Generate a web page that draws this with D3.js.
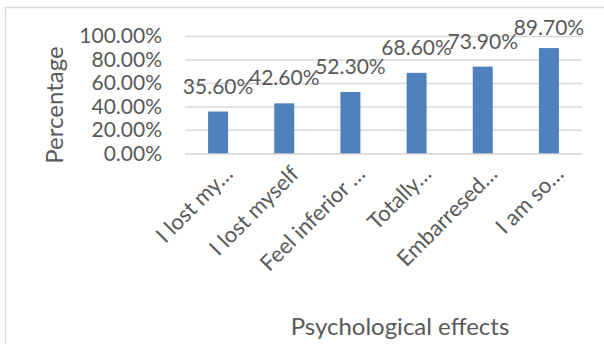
<!DOCTYPE html>
<html>
<head>
<meta charset="utf-8">
<script src="https://cdn.jsdelivr.net/npm/d3@7"></script>
<style>
  html, body { margin: 0; padding: 0; background: #fff; }
  svg { display: block; font-family: Lato, "Open Sans", sans-serif; }
</style>
</head>
<body>
<svg id="chart" width="604" height="344"></svg>
<script>
// Share of respondents reporting each psychological effect
const categories = ["I lost my…", "I lost myself", "Feel inferior …", "Totally…", "Embarresed…", "I am so…"];
const values = [0.356, 0.426, 0.523, 0.686, 0.739, 0.897];
const yTicks = [0, 0.2, 0.4, 0.6, 0.8, 1.0];
const yTitle = "Percentage";
const xTitle = "Psychological effects";

const W = 604, H = 344;
const plot = { left: 185, right: 582, top: 36, bottom: 153.3 };
const textColor = "#595959";
const gridColor = "#d9d9d9";
const barColor = "#4f81bd";
const numSize = 21;     // tick and value labels
const catSize = 22;     // category labels
const titleSize = 24;   // axis titles

const svg = d3.select("#chart");

// Chart area outline
svg.append("rect")
  .attr("x", 5.5).attr("y", 7.5)
  .attr("width", W + 20).attr("height", H + 20)
  .attr("fill", "none").attr("stroke", gridColor).attr("stroke-width", 1.5);

const x = d3.scaleBand().domain(categories).range([plot.left, plot.right]);
const y = d3.scaleLinear().domain([0, 1]).range([plot.bottom, plot.top]);
const fmt = d3.format(".2%");

// Gridlines and value axis labels
const yAxis = d3.axisLeft(y).tickValues(yTicks).tickFormat(fmt)
  .tickSize(-(plot.right - plot.left)).tickPadding(23);
const gy = svg.append("g").attr("transform", `translate(${plot.left},0)`).call(yAxis);
gy.select(".domain").remove();
gy.selectAll(".tick line").attr("stroke", gridColor).attr("stroke-width", 1.5);
gy.selectAll(".tick text")
  .attr("fill", textColor).attr("font-size", numSize)
  .attr("font-family", "Lato, sans-serif");

// Category axis with slanted labels
const xAxis = d3.axisBottom(x).tickSize(0).tickPadding(0);
const gx = svg.append("g").attr("transform", `translate(0,${plot.bottom})`).call(xAxis);
gx.select(".domain").attr("stroke", gridColor).attr("stroke-width", 1.5);
gx.selectAll(".tick text")
  .attr("fill", textColor).attr("font-size", catSize)
  .attr("font-family", "Lato, sans-serif")
  .attr("text-anchor", "end")
  .attr("y", 0).attr("dy", null)
  .attr("transform", "translate(16,22) rotate(-45)");

// Bars
const barW = 20;
svg.append("g").selectAll("rect").data(values).join("rect")
  .attr("x", (d, i) => x(categories[i]) + x.bandwidth() / 2 - barW / 2)
  .attr("y", d => y(d))
  .attr("width", barW)
  .attr("height", d => y(0) - y(d))
  .attr("fill", barColor);

// Value labels
svg.append("g").selectAll("text").data(values).join("text")
  .attr("x", (d, i) => x(categories[i]) + x.bandwidth() / 2)
  .attr("y", d => Math.max(y(d) - 18, 35))
  .attr("text-anchor", "middle")
  .attr("fill", textColor).attr("font-size", numSize)
  .text(d => fmt(d));

// Axis titles
svg.append("text")
  .attr("transform", `translate(57,105) rotate(-90)`)
  .attr("text-anchor", "middle").attr("dominant-baseline", "middle")
  .attr("fill", textColor).attr("font-size", titleSize)
  .text(yTitle);

svg.append("text")
  .attr("x", 400).attr("y", 335)
  .attr("text-anchor", "middle")
  .attr("fill", textColor).attr("font-size", titleSize)
  .text(xTitle);
</script>
</body>
</html>
